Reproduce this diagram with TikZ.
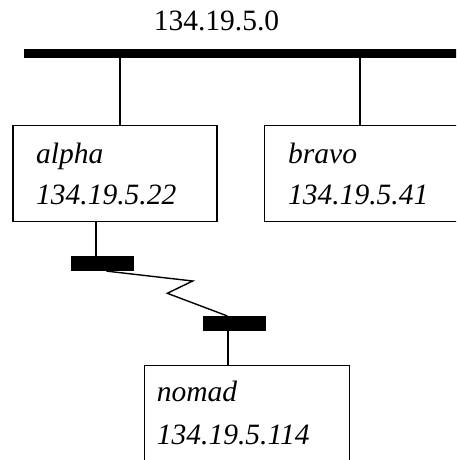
\documentclass[tikz,border=0pt]{standalone}
\usepackage{fontspec}
\setmainfont{Liberation Serif}
\begin{document}
\begin{tikzpicture}[x=1pt,y=1pt,
  hostbox/.style={draw,line width=1.4pt,rectangle,inner sep=0pt,anchor=north west},
  busbar/.style={fill=black,draw=none,rectangle,inner sep=0pt,anchor=north west},
  link/.style={line width=2pt},
  lbl/.style={inner sep=0pt,anchor=base west,font=\fontsize{29.5}{34}\selectfont\itshape},
  toplbl/.style={inner sep=0pt,anchor=base,font=\fontsize{29.5}{34}\selectfont}]
\useasboundingbox (0,0) rectangle (456,460);
\clip (0,0) rectangle (456,460);
% main bus
\node[busbar,minimum width=446pt,minimum height=9pt] (bus) at (24,411) {};
\node[toplbl] (net) at (216.5,429) {134.19.5.0};
% hosts
\node[hostbox,minimum width=204pt,minimum height=96pt] (alpha) at (12.3,335) {};
\node[hostbox,minimum width=220pt,minimum height=96pt] (bravo) at (264,335) {};
\node[hostbox,minimum width=204.7pt,minimum height=110pt] (nomad) at (144,95) {};
\node[lbl] (alphaname) at (36,296.7) {alpha};
\node[lbl] (alphaip) at (36,255.7) {134.19.5.22};
\node[lbl] (bravoname) at (288,296.7) {bravo};
\node[lbl] (bravoip) at (288,255.7) {134.19.5.41};
\node[lbl] (nomadname) at (156.7,58.3) {nomad};
\node[lbl] (nomadip) at (156.7,15) {134.19.5.114};
% modem bars
\node[busbar,minimum width=62.3pt,minimum height=14.7pt] (m1) at (71,204) {};
\node[busbar,minimum width=63pt,minimum height=14.7pt] (m2) at (202.7,144) {};
% connectors
\coordinate (ta) at (120.3,0);
\coordinate (tb) at (360,0);
\coordinate (tc) at (96.3,0);
\coordinate (td) at (228.3,0);
\draw[link] (bus.south -| ta) -- (alpha.north -| ta);
\draw[link] (bus.south -| tb) -- (bravo.north -| tb);
\draw[link] (alpha.south -| tc) -- (m1.north -| tc);
\draw[link] (m2.south -| td) -- (nomad.north -| td);
\coordinate (z1) at (192.7,179);
\coordinate (z2) at (167.3,166.7);
\draw[line width=1.4pt,line join=miter] ([xshift=4pt]m1.south) -- (z1) -- (z2) -- ([xshift=-7pt]m2.north);
\end{tikzpicture}
\end{document}
